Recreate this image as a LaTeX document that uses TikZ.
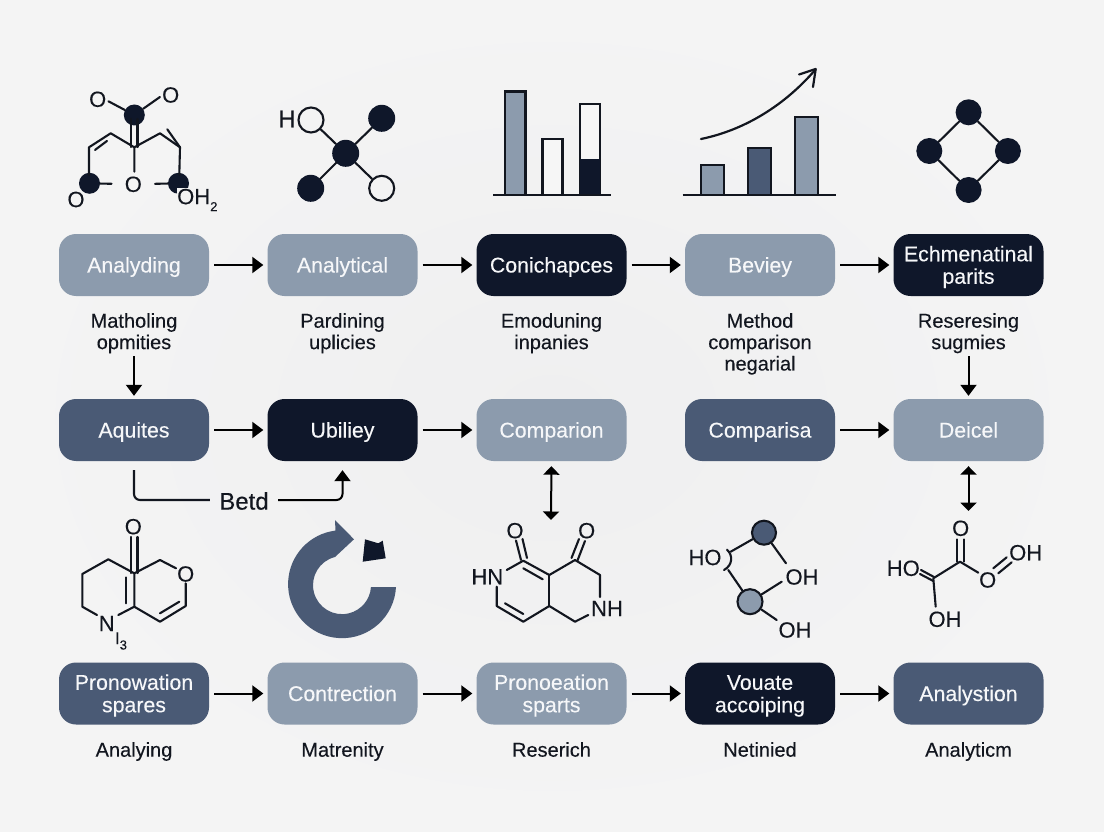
\documentclass[tikz,border=0pt]{standalone}
\usepackage{fontspec}
\setmainfont{Liberation Sans}[FakeBold=0.25]
\usetikzlibrary{arrows.meta}
\definecolor{bgc}{HTML}{EFEFF0}
\definecolor{bgedge}{HTML}{F4F4F4}
\definecolor{haloc}{HTML}{F3F3F3}
\definecolor{lightc}{HTML}{8C9BAD}
\definecolor{midc}{HTML}{4A5A75}
\definecolor{darkc}{HTML}{0F172A}
\definecolor{labelc}{HTML}{F6F7F9}
\definecolor{inkc}{HTML}{12161F}
\definecolor{paperc}{HTML}{F6F6F6}
\newcommand\lowsub[1]{\raisebox{-0.32em}{\fontsize{13}{13}\selectfont #1}}
\newcommand\lifted{\rule{0pt}{21pt}}
\newcommand\sunk{\rule[-6pt]{0pt}{6pt}}
\tikzset{
  boxbase/.style={rounded corners=17pt,minimum width=150pt,minimum height=62pt,inner sep=0pt,align=center,text=labelc,font=\fontsize{21.3}{22.5}\selectfont},
  lightbox/.style={boxbase,fill=lightc},
  midbox/.style={boxbase,fill=midc},
  darkbox/.style={boxbase,fill=darkc},
  captionlabel/.style={anchor=north,inner sep=0pt,align=center,text=inkc,font=\fontsize{20}{21.4}\selectfont},
  flow/.style={draw=black,line width=2pt,-{Triangle[length=11pt,width=16pt]},shorten <=5pt,shorten >=4pt},
  both/.style={draw=black,line width=2pt,{Triangle[length=8.5pt,width=16pt]}-{Triangle[length=8.5pt,width=16pt]}},
  bond/.style={draw=inkc,line width=2.1pt,line cap=round,line join=round},
  atomtext/.style={inner sep=0pt,text=inkc,font=\fontsize{22}{22}\selectfont},
  haloatom/.style={atomtext,fill=haloc,inner sep=1pt},
  darkatom/.style={circle,fill=darkc,inner sep=0pt,minimum size=27pt},
  openatom/.style={circle,draw=inkc,line width=2.1pt,fill=haloc,inner sep=0pt,minimum size=25pt},
  bar/.style={draw=inkc,line width=2.1pt},
  baseline/.style={draw=inkc,line width=2.2pt},
}
\begin{document}
\begin{tikzpicture}[x=1pt,y=-1pt]
\useasboundingbox (0,0) rectangle (1104,832);
\shade[inner color=bgc,outer color=bgedge] (0,0) rectangle (1104,832);

% boxes
\node[lightbox] (a1) at (134,265) {\lifted Analyding\sunk};
\node[lightbox] (a2) at (342.5,265) {\lifted Analytical\sunk};
\node[darkbox]  (a3) at (551.5,265) {\lifted Conichapces\sunk};
\node[lightbox] (a4) at (760,265) {\lifted Beviey\sunk};
\node[darkbox]  (a5) at (968.5,265) {\lifted Echmenatinal\\parits\sunk};
\node[midbox]   (b1) at (134,430) {\lifted Aquites\sunk};
\node[darkbox]  (b2) at (342.5,430) {\lifted Ubiliey\sunk};
\node[lightbox] (b3) at (551.5,430) {\lifted Comparion\sunk};
\node[midbox]   (b4) at (760,430) {\lifted Comparisa\sunk};
\node[lightbox] (b5) at (968.5,430) {\lifted Deicel\sunk};
\node[midbox]   (c1) at (134,693.5) {\lifted Pronowation\\spares\sunk};
\node[lightbox] (c2) at (342.5,693.5) {\lifted Contrection\sunk};
\node[lightbox] (c3) at (551.5,693.5) {\lifted Pronoeation\\sparts\sunk};
\node[darkbox]  (c4) at (760,693.5) {\lifted Vouate\\accoiping\sunk};
\node[midbox]   (c5) at (968.5,693.5) {\lifted Analystion\sunk};

% captions
\node[captionlabel] (t1) at (134,313) {Matholing\\opmities};
\node[captionlabel] (t2) at (342.5,313) {Pardining\\uplicies};
\node[captionlabel] (t3) at (551.5,313) {Emoduning\\inpanies};
\node[captionlabel] (t4) at (760,313) {Method\\comparison\\negarial};
\node[captionlabel] (t5) at (968.5,313) {Reseresing\\sugmies};
\node[captionlabel] (u1) at (134,742) {Analying};
\node[captionlabel] (u2) at (342.5,742) {Matrenity};
\node[captionlabel] (u3) at (551.5,742) {Reserich};
\node[captionlabel] (u4) at (760,742) {Netinied};
\node[captionlabel] (u5) at (968.5,742) {Analyticm};

% flow arrows
\foreach \p/\q in {a1/a2,a2/a3,a3/a4,a4/a5,b1/b2,b2/b3,b4/b5,c1/c2,c2/c3,c3/c4,c4/c5}
  \draw[flow] (\p) -- (\q);
\draw[flow,shorten <=3pt,shorten >=3pt] (t1) -- (b1);
\draw[flow,shorten <=3pt,shorten >=3pt] (t5) -- (b5);

% Betd connector
\node[inner sep=0pt,minimum width=68pt,text=inkc,font=\fontsize{24}{24}\selectfont] (betd) at (244,501) {Betd};
\coordinate (betdL) at (134,500);
\coordinate (betdR) at (342.5,500);
\draw[bond,line cap=butt,rounded corners=6pt,shorten <=9pt] (b1.south) -- (betdL) -- (betd.west |- betdL);
\draw[draw=black,line width=2pt,rounded corners=6pt,-{Triangle[length=11pt,width=16pt]},shorten >=9pt] (betd.east |- betdR) -- (betdR) -- (b2.south);

% two-way connectors
\coordinate (m4top) at (551,520);
\coordinate (m6top) at (968.5,511);
\draw[both,shorten <=5pt] (b3.south) -- (m4top);
\draw[both,shorten <=5pt] (b5.south) -- (m6top);

% molecule 1
\node[darkatom,minimum size=21pt] (m1c) at (134.3,115) {};
\node[darkatom,minimum size=21pt] (m1l) at (89.5,183.3) {};
\node[darkatom,minimum size=21pt] (m1r) at (178.5,183.3) {};
\node[atomtext] (m1o1) at (97.7,99.3) {O};
\node[atomtext] (m1o2) at (170.7,95) {O};
\node[atomtext] (m1o3) at (133.3,184.3) {O};
\node[atomtext] (m1o4) at (76,199.5) {O};
\draw[bond] (m1o1.east)++(2,2) -- (m1c);
\draw[bond] (m1o2.west)++(-2,2) -- (m1c);
\draw[bond,shorten <=4pt] (131,115) -- (131,147);
\draw[bond,shorten <=4pt] (137.5,115) -- (137.5,147);
\draw[bond] (134.3,171.7) -- (134.3,147.3) -- (110.7,133.3) -- (89,147.3) -- (89,175);
\draw[bond] (95,150) -- (107,141);
\draw[bond] (134.3,147.3) -- (160,133.3) -- (180,147.3) -- (179.3,175);
\draw[bond] (167.3,129.3) -- (180,147.3);
\draw[bond,shorten >=13pt] (m1l) -- (m1o3);
\draw[bond,shorten >=13pt] (m1r) -- (m1o3);
\node[haloatom,anchor=west,inner sep=0.5pt] (m1oh) at (176.5,200) {OH\lowsub{2}};

% molecule 2
\node[darkatom] (m2c) at (345.7,153.3) {};
\node[darkatom] (m2a) at (381.7,118.3) {};
\node[darkatom] (m2b) at (310.7,188.3) {};
\node[openatom] (m2d) at (311,120) {};
\node[openatom] (m2e) at (381.7,188.3) {};
\node[atomtext,font=\fontsize{24}{24}\selectfont] (m2h) at (287,119) {H};
\foreach \q in {m2a,m2b,m2d,m2e} \draw[bond] (m2c) -- (\q);

% bar chart 1
\draw[bar,fill=lightc] (505,195) rectangle (525.5,91.5);
\draw[bar,fill=paperc] (542.5,195) rectangle (562.5,139);
\draw[bar,fill=paperc] (579.6,195) rectangle (600.4,104.3);
\fill[darkc] (579.6,158.7) rectangle (600.4,195);
\draw[baseline] (493,195) -- (611,195);

% bar chart 2
\draw[bar,fill=lightc] (701,195) rectangle (724,165);
\draw[bar,fill=midc] (748,195) rectangle (771,148);
\draw[bar,fill=lightc] (795,195) rectangle (818,117);
\draw[baseline] (682.5,195) -- (835.5,195);
\draw[bond,line width=2.2pt] (701,139) .. controls (745,130) and (785,105) .. (815.5,69.5);
\draw[bond,line width=2.2pt] (799,74.5) -- (815.7,69) -- (813,87);

% diamond
\node[darkatom,minimum size=26pt] (d1) at (968.6,112.3) {};
\node[darkatom,minimum size=26pt] (d2) at (929.3,151) {};
\node[darkatom,minimum size=26pt] (d3) at (1007.9,151) {};
\node[darkatom,minimum size=26pt] (d4) at (968.6,190) {};
\draw[bond] (d1) -- (d2) -- (d4) -- (d3) -- (d1);

% molecule 3
\node[atomtext] (m3o) at (133.3,526.7) {O};
\node[atomtext] (m3o2) at (185.7,574) {O};
\node[atomtext] (m3n) at (106.7,623.5) {N};
\node[atomtext,font=\fontsize{17}{17}\selectfont] (m3i) at (121,641) {I\lowsub{3}};
\draw[bond] (131,537) -- (131,573);
\draw[bond] (137.5,537) -- (137.5,573);
\draw[bond] (134.3,573.3) -- (108.3,559.3) -- (82.3,574) -- (82.3,606.7) -- (97,615);
\draw[bond] (118.3,615) -- (134.3,606.7) -- (134.3,573.3);
\draw[bond] (126,577.3) -- (126,603.3);
\draw[bond] (134.3,573.3) -- (160,560) -- (176,568.3);
\draw[bond] (185.7,583.3) -- (185.7,606) -- (160,621.7) -- (134.3,606.7);
\draw[bond] (160,613.3) -- (179.3,601.7);

% circular arrow
\fill[midc] (396,587) arc[start angle=3,end angle=263,radius=54] -- (335,520) -- (354,539.3) -- (335,557)
  arc[start angle=256,end angle=4,radius=29] -- cycle;
\fill[darkc] (365,539.3) -- (378.3,543.3) -- (382.7,540.7) -- (385.7,558.3) -- (362.7,561.7) -- cycle;

% molecule 4
\node[atomtext] (m4o1) at (515,530.7) {O};
\node[atomtext] (m4o2) at (586.7,530.7) {O};
\node[atomtext] (m4hn) at (487.3,576.7) {HN};
\node[atomtext] (m4nh) at (607,608.5) {NH};
\draw[bond] (516,540.5) -- (521,560);
\draw[bond] (522.5,539) -- (527,558);
\draw[bond] (579,539) -- (571.5,558);
\draw[bond] (585,541) -- (577.5,560.5);
\draw[bond] (506.7,570) -- (523.3,560.7) -- (549.3,575) -- (575,560) -- (600,575) -- (600,597);
\draw[bond] (523.3,568.3) -- (542.7,579.3);
\draw[bond] (549.3,575) -- (549.3,606);
\draw[bond] (588.3,615) -- (575,621.7) -- (549.3,606) -- (523.3,621.7) -- (496.7,606) -- (496.7,586.7);
\draw[bond] (505,603.3) -- (523.3,614);

% molecule 5
\node[circle,draw=inkc,line width=2.1pt,fill=midc,inner sep=0pt,minimum size=24pt] (m5a) at (764,532.7) {};
\node[circle,draw=inkc,line width=2.1pt,fill=lightc,inner sep=0pt,minimum size=25pt] (m5b) at (750,601.7) {};
\node[atomtext] (m5ho) at (705,557.5) {HO};
\node[atomtext] (m5oh1) at (802,577) {OH};
\node[atomtext] (m5oh2) at (795,630) {OH};
\draw[bond] (730.7,551.7) -- (m5a);
\draw[bond] (728.3,570) -- (m5b);
\draw[bond] (m5a) -- (786,563.3);
\draw[bond] (m5b) -- (781.7,581.7);
\draw[bond] (m5b) -- (776.7,620);
\draw[bond] (727,549.7) .. controls (733,555) and (733,565) .. (724,570);

% molecule 6
\node[atomtext] (m6o1) at (960.7,528.3) {O};
\node[atomtext] (m6ho) at (903.3,568.3) {HO};
\node[atomtext] (m6oh1) at (945,619.3) {OH};
\node[atomtext] (m6o2) at (987.7,580) {O};
\node[atomtext] (m6oh2) at (1025.7,552.7) {OH};
\draw[bond] (957.3,539.3) -- (957.3,561.7);
\draw[bond] (964.3,539.3) -- (964.3,561.7);
\draw[bond] (978.3,572.7) -- (960,561.7) -- (933.3,578.3) -- (935.7,606.7);
\draw[bond] (920,574) -- (933.3,581);
\draw[bond] (921,570) -- (934,577);
\draw[bond] (993.3,568.3) -- (1006.7,557.3);
\draw[bond] (998.3,573.3) -- (1011.7,562.3);
\end{tikzpicture}
\end{document}
